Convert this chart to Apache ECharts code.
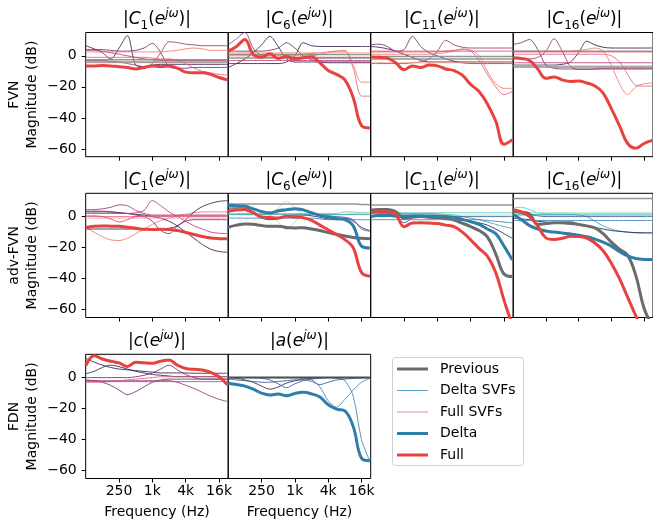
<!DOCTYPE html>
<html><head><meta charset="utf-8">
<script src="https://cdn.jsdelivr.net/npm/echarts@6/dist/echarts.min.js"></script>
<style>html,body{margin:0;padding:0;background:#fff}#c{width:653px;height:524px}</style>
</head><body><div id="c"></div>
<script>
// ---------- axes ----------
const freqHz = [62.5, 88.4, 125, 176.8, 250, 353.6, 500, 707.1, 1000, 1414, 2000, 2828, 4000, 5657, 8000, 11314, 16000, 22627];
const fMin = 62.5, fMax = 23400;
const tickHz = [250, 1000, 4000, 16000];
const tickLabels = ['250', '1k', '4k', '16k'];
const yTicks = [0, -20, -40, -60];
const yMin = -65, yMax = 15;
const rowNames = ['FVN', 'adv-FVN', 'FDN'];
const legendNames = ['Previous', 'Delta SVFs', 'Full SVFs', 'Delta', 'Full'];

// ---------- FVN C1 ----------
const fvnC1Full = [-6.5,-6.5,-6.3,-6.5,-7,-7.5,-8.5,-7.5,-6.5,-7,-6.5,-8,-10.5,-11,-11,-12,-14,-15.5];
const fvnC1Prev = [[-2.5,-2.5,-2.5,-2.5,-2.5,-2.5,-2.5,-2.5,-2.5,-2.5,-2.5,-2.5,-2.5,-2.5,-2.5,-2.5,-2.5,-2.5],
                   [-4,-4,-4,-4,-4,-4,-4,-4,-4,-4,-4,-4,-4,-4,-4,-4,-4,-4]];
const fvnC1Svf = [
 [6.5,4.5,2,-2,5,13,-6,-7,-6,-5.5,-5.5,-5.5,-5.5,-5.5,-5.5,-5.5,-5.5,-5.5],
 [4,4,4,3.5,3,3,3.5,5,8,2,-7,-8,-8,-7.5,-7.5,-7.5,-7.5,-7.5],
 [-3,-3,-3,-3.5,-4,-5,-6,-7,-5,2,9,8.5,7.5,7,6.5,6.5,6.5,6.5],
 [2.5,2.5,2.5,2.5,2.5,2.5,2.5,2.5,2.5,2.5,3,3.5,4.5,5,4.5,3.5,3.5,3.5],
 [-1,-1,-1,-1,-1,-1,-1,-1,-1.5,-2,-2,-3,-5,-8,-10,-11,-12,-12.5],
 [3.5,3.5,3,2,1,0,-1,-2,-2.5,-3,-3,-3,-3,-3,-3,-3,-3,-3],
 [-4.5,-4.5,-4.5,-4.5,-4.5,-4.5,-4.5,-4.5,-4.5,-4.5,-4.5,-4.5,-4.5,-4.5,-4.5,-4.5,-4.5,-4.5]];

// ---------- FVN C6 ----------
const fvnC6Full = [3,6,10.5,0.8,-0.9,1.3,-1.7,-0.4,-1.9,-1.3,-0.6,-4.5,-9.5,-12,-15.5,-27,-45,-46.5];
const fvnC6Prev = [[0.8,0.8,0.8,0.8,0.8,0.8,0.8,0.8,0.8,0.8,0.8,0.8,0.8,0.8,0.8,0.8,0.8,0.8],
                   [-1.5,-1.5,-1.5,-1.5,-1.5,-1.5,-1.5,-1.5,-1.5,-1.5,-1.5,-1.5,-1.5,-1.5,-1.5,-1.5,-1.5,-1.5]];
const fvnC6Svf = [
 [-7.5,-5,-2,2,7,12.5,6,-2,-4,-4,-4,-4,-4,-4,-4,-4,-4,-4],
 [7,11,15,5,0,-1,-1,-1,-1,-1,-1,-1,-1,-1,-1,-1,-1,-1],
 [3,3,3,3,3,3.5,5,8.4,5,0,-2.5,-4,-4.5,-4.5,-4.5,-4.5,-4.5,-4.5],
 [-5,-5,-5,-5,-5,-5,-5,-4,0,8.4,6.5,6,6,6,6,6,6,6],
 [1,1,1,1,1,1,1,1,1,1,1.5,2,2.5,3,3,-8,-26,-26],
 [0,0,0,0,0,0,0,0,0,0,0,1,2,3,3.5,-6,-17,-17],
 [-3,-3,-3,-3,-3,-3,-3,-3,-3,-3,-3,-3,-3,-3,-3,-3,-3,-3],
 [2,2,2,2,2,2,2,2,2,2,2,2,2,2,2,2,2,2]];

// ---------- FVN C11 ----------
const fvnC11Full = [-0.7,-1,-1.5,-4.5,-9,-6.5,-7.5,-6,-6.5,-8.5,-9.5,-12.5,-18.5,-23,-31,-42,-57,-54];
const fvnC11Prev = [[-0.5,-0.5,-0.5,-0.5,-0.5,-0.5,-0.5,-0.5,-0.5,-0.5,-0.5,-0.5,-0.5,-0.5,-0.5,-0.5,-0.5,-0.5],
                    [-2,-2,-2,-2,-2,-2,-2,-2,-2,-2,-2,-2,-2,-2,-2,-2,-2,-2]];
const fvnC11Svf = [
 [7,7.5,6,3,4,12.5,6,2,0,-2,-3.5,-4.5,-5,-5,-5,-5,-5,-5],
 [6,5.5,4.5,3,1,-1,-3,-4,-4,-4,-4,-4,-4,-4,-4,-4,-4,-4],
 [-5,-5,-5,-5,-5,-4.5,-4,-2,3,10,7,5.5,5,5,5,5,5,5],
 [2.5,2.5,2.5,2.5,2.5,2.5,2.5,2.5,2.5,3,3.5,4,3,-3,-12,-20,-25,-23],
 [1,1,1,1,1,1,1,1,1.5,2,3,4.5,3.6,0,-10,-18,-21,-21],
 [3,3,3,3,3,3,3,3,3,3,3,3,3,3,3,3,3,3],
 [-4.5,-4.5,-4.5,-4.5,-4.5,-4.5,-4.5,-4.5,-4.5,-4.5,-4.5,-4.5,-4.5,-4.5,-4.5,-4.5,-4.5,-4.5]];

// ---------- FVN C16 ----------
const fvnC16Full = [-1.3,-1.7,-3,-8.5,-14.5,-13.7,-15.5,-16.5,-16.3,-17.5,-19.5,-24,-34,-45,-56.5,-59.5,-56.5,-54.5];
const fvnC16Prev = [[3,3,3,3,3,3,3,3,3,3,3,3,3,3,3,3,3,3],
                    [-7.3,-7.3,-7.3,-7.3,-7.3,-7.3,-7.3,-7.3,-7.3,-7.3,-7.3,-7.3,-7.3,-7.3,-7.3,-7.3,-7.3,-7.3]];
const fvnC16Svf = [
 [7.3,8.5,10.5,4,-6,-8,-8.5,-8.5,-8.5,-8.5,-8.5,-8.5,-8.5,-8.5,-8.5,-8.5,-8.5,-8.5],
 [-2,-2,-2,-1,3,11,3,-7,-8.8,-8.8,-8.5,-8,-8,-8,-8,-8,-8,-8],
 [-6,-6,-6,-6,-6,-6,-5.5,-4,2,9.4,7,5.5,5,5,5,5,5,5],
 [3,3,3,3,3,3,3,3,3.5,4,5,3,-6,-18,-25,-20,-18,-17.5],
 [1,1,1,1,1,1,1,1,1,1,1,1,0,-4,-12,-19,-19.5,-19.5],
 [2.5,2.5,2.5,2.5,2.5,2.5,2.5,2.5,2.5,2.5,2.5,2.5,2.5,2.5,2.5,2.5,2.5,2.5],
 [-4.5,-4.5,-4.5,-4.5,-4.5,-4.5,-4.5,-4.5,-4.5,-4.5,-4.5,-4.5,-4.5,-4.5,-4.5,-4.5,-4.5,-4.5],
 [-6.5,-6.5,-6.5,-6.5,-6.5,-6.5,-6.5,-6.5,-6.5,-6.5,-6.5,-6.5,-6.5,-6.5,-6.5,-6.5,-6.5,-6.5]];

// ---------- adv-FVN C1 ----------
const advC1Full = [-7,-6.3,-6,-6.2,-6.3,-6.8,-7.5,-8.2,-8.3,-8.2,-8.3,-9,-10.2,-11.5,-12.8,-13.8,-14.2,-14.3];
const advC1Svf = [
 [-7,-10,-13,-15,-15.4,-14,-11,-8,-5,-2.5,-1,0.5,1.5,2.5,3,3,3,3],
 [3,3,3,3,2.5,2,1.5,1,0,-1,-3,-6,-10,-14,-18,-21,-22.5,-23],
 [-8,-8,-8,-8,-8,-8,-8,-8,-8,-8,-7.5,-6,-2,3,6.5,8.5,9.8,10.3],
 [3.5,3.5,3.5,3,2.5,2,1,0,-3,-9,-11,-6,-3,-2,-2,-2,-2,-2],
 [4.5,4.5,5,6,7.5,7,4,2,1,1,1,1,1,1,1,1,1,1],
 [2,2,2,2,2,2,2.5,4,10.3,7,3,0,-3,-6,-8,-10,-10.7,-11],
 [0,0,0,0,0,0,0,0,0,0,0,0,0,0,0,0,0,0],
 [-1,-1,-1,-1,-1,-1,-1,-1,-1,-1,-1,-1,-1,-1,-1,-1,-1,-1],
 [0.5,0.5,0,-1.5,-3.5,-2,0,0.5,0.5,0.5,0.5,0.5,0.5,0.5,0.5,0.5,0.5,0.5]];

// ---------- adv-FVN C6 ----------
const advC6Full = [3.4,4.3,4.5,2.5,-0.2,-0.6,-0.9,0.2,-0.2,-0.8,-2.5,-5.5,-8.5,-11.5,-14.8,-20,-36,-38.4];
const advC6Delta = [7.3,7,6.6,5,3.3,2.4,3.7,4.4,5.1,4.3,2.5,0.8,-0.3,-1.2,-2,-6,-19,-20.2];
const advC6Prev = [-6.9,-5.5,-4.7,-5,-5.8,-6.3,-6.2,-7,-7.3,-7.2,-8,-9,-10.3,-11.4,-12.5,-13.5,-14,-14.2];
const advC6PrevThin = [[8.1,8.1,8.1,8.1,8.1,8.1,8.1,8.1,8.1,8.1,8.1,8.1,8.1,8.1,8.1,8.1,7.8,7.6]];
const advC6Svf = [
 [1.3,1.3,1.3,1.3,1.3,1.5,5.5,9.9,5.5,1.5,1.3,1.3,1.3,1.3,1.5,2,2.2,2.2],
 [1.3,1.3,1.3,1.3,1.3,1,-3.5,-8.4,-3.5,1,1.3,1.3,1.3,1.3,1.3,1.3,1.3,1.3],
 [5,5,4,2,-1,-2,-1.5,0,1,1,0.5,-0.5,-1.5,-2,-1,-3,-7,-9],
 [6,6,5.5,4.5,3,2.5,3,4,4.5,4,2,1,0.5,0,-0.5,-2,-8,-9.4],
 [2,2,2,2,2,2,2,2,2,2,2,2,2,2,3,3,2.5,2.5],
 [-1,-1,-1,-1,-1,-1,-1,-1,-1,-1,-1,-1.5,-2,-2,-2,-2,-2,-2],
 [1.3,1.3,1.3,1.3,1.3,1.3,1.3,1.3,1.3,1.3,1.3,1.3,1.3,1.3,1.3,1.3,1.3,1.3]];

// ---------- adv-FVN C11 ----------
const advC11Full = [2.6,3.1,3,1.5,-6.5,-4.2,-4,-4.2,-4.5,-5.5,-6.5,-10,-15,-20.5,-25.5,-36,-54,-70];
const advC11Delta = [0,0.8,1,0.6,0.4,0.5,0.5,0.4,0.3,0,-0.5,-1.8,-3.3,-5,-8,-11,-19,-28];
const advC11Prev = [4.3,4.6,4.5,3.2,-1,-0.2,0,0,-0.3,-1.2,-2.3,-4.3,-6.5,-9,-13,-24,-37,-38.6];
const advC11PrevThin = [[7.5,7.5,7.5,7.5,7.5,7.5,7.5,7.5,7.5,7.5,7.5,7.5,7.5,7.5,7.5,7.5,7.5,7.5]];
const advC11Svf = [
 [0.5,0.5,0.5,0.5,0.5,0,-0.5,-1,-1.2,-1.5,-2,-2.5,-3,-4,-5.5,-8,-11,-14],
 [2,2,2,2,2,2,2,2,1.8,1.5,1,0,-1,-2,-3.5,-5,-6.5,-7.5],
 [0,0,0,-0.5,-4,-1,0,0,0,0,0,0,0,0,0,0,0,0],
 [2.5,2.5,2.5,2.5,2.5,2.5,2.5,2.5,2.5,2.5,2.5,2.5,2.5,2.5,2.5,2.5,2.5,2.5],
 [-2,-2,-2,-2,-2,-2,-2,-2,-2,-2,-2,-2,-2,-2,-2.5,-3,-3.5,-4],
 [1,1,1,1,1,1,1,1,1,1,1,1,1,1,1,1,1,1]];

// ---------- adv-FVN C16 ----------
const advC16Full = [4.5,3,0,-6,-13.7,-14.8,-14,-12.7,-12.8,-13.8,-17,-22,-30,-40,-52,-64,-75,-80];
const advC16Delta = [1.3,-2,-5.8,-8,-9.3,-10,-10.5,-11.2,-12,-13,-14.5,-16.5,-19,-22.5,-25.3,-27,-27.6,-27.7];
const advC16Prev = [3.4,2.8,1.7,-5,-4.5,-4,-4,-4,-5,-6,-7.3,-11,-16.5,-21,-25,-38,-59,-70];
const advC16PrevThin = [[11.6,11.6,11.6,11.6,11.6,11.6,11.6,11.6,11.6,11.6,11.6,11.6,11.6,11.6,11.6,11.6,11.6,11.6]];
const advC16Svf = [
 [5.6,6,4.5,2.5,1.8,1.7,1.7,1.7,1.7,1.7,1.7,1.7,1.7,1.7,1.7,1.7,1.7,1.7],
 [1.5,1.5,1.5,1.5,1.5,1.5,1.5,1.5,1,0,-3,-6,-8,-9.4,-10,-10.5,-10.5,-10.5],
 [-1,-1.5,-2,-3,-3.5,-4,-4.5,-5,-5.5,-6,-7,-8,-9,-9.5,-10,-10.3,-10.5,-10.5],
 [3,2.5,1.5,0.5,0,0,0,0,0,0,0,0,0,0,0,0,0,0],
 [2.5,2.5,2.5,2.5,2.5,2.5,2.5,2.5,2.5,2.5,2.5,2.5,2.5,2.5,2.5,2.5,2.5,2.5],
 [-2.5,-2.5,-2.5,-2.5,-2.5,-2.5,-2.5,-2.5,-2.5,-2.5,-2.5,-2.5,-2.5,-2.5,-2.5,-2.5,-2.5,-2.5],
 [1,1,1,1,1,1,1,1,1,1,1,1,1,1,1,1,1,1]];

// ---------- FDN c ----------
const fdnCFull = [7.5,14,12,10.5,9.5,7.2,9.8,9.5,9.3,10.5,11.3,8,5.8,5.3,4.9,3.3,0.5,-4.7];
const fdnCSvf = [
 [-1.5,-2,-3,-5,-8,-11,-9,-6,-3,-1.5,-1,-1,-1,-1,-1,-1,-1,-1],
 [-2,-2,-2,-2,-2,-2,-2,-2,-2,-2,-2,-3,-5,-7,-9.5,-12,-14,-15.4],
 [12.4,10,8,6.5,5.5,5,4.5,4,3.5,3,3,3,3,2.8,2.8,2.8,2.8,2.8],
 [2.5,4,6.5,8,7,5.5,4,3,2,1.5,1,0.6,0.6,0.6,0.6,0.6,0.6,0.6],
 [0,0,0,0,0,0,0.5,1.5,3,5.5,8,5,2,0,-1,-1,-1,-1],
 [-3,-3,-2.8,-2.5,-2,-1.5,-1,-0.5,0,0.5,0.5,0.5,0.5,0.5,0.5,0.5,0.5,0.5],
 [-2.6,-2.6,-2.6,-2.6,-2.6,-2.6,-2.6,-2.6,-2.6,-2.6,-2.6,-2.6,-2.6,-2.6,-2.6,-2.6,-2.6,-2.6]];

// ---------- FDN a ----------
const fdnADelta = [-3.6,-4.5,-5.5,-7.5,-10,-11.2,-10.5,-11.7,-10.2,-9.5,-10.5,-12.5,-17.5,-20.3,-21.5,-31.5,-52,-53.6];
const fdnAPrev = [0,0,0,0,0,0,0,0,0,0,0,0,0,0,0,0,0,0];
const fdnASvf = [
 [0,-0.5,-1.5,-3,-5.5,-7.5,-6,-3.5,-2,-1,-0.5,0,0,0,0,0,0,0],
 [0,0,0,0,-0.5,-1.5,-4,-6.5,-4,-2,-1,-0.5,0,0,0,0,0,0],
 [0,0,0,0,0,0,0,0,0,-0.5,-1.5,-6,-15,-19,-14,-8,-3,-0.5],
 [0,0,0,0,0,0,0,0,0,0,0,0,0,-0.5,-2,-12,-40,-54],
 [-1,-1.5,-2,-2.5,-3,-3,-2.5,-2,-1.5,-1.5,-2.5,-4.5,-3,-1.5,-1,-0.5,-0.3,0]];

// ---------- styles ----------
const FONT = 'DejaVu Sans';
const C = {
  full: '#e8413e', delta: '#2f7eaa', prev: '#6b6b6b', prevThin: '#8a8a8a', prevFlat: '#4f4f4f',
  dp: '#3b1c4f', pu: '#6e2f72', mg: '#9b3779', cr: '#c23d74', rd: '#dc4a66', sa: '#ef7a68', ls: '#f6a488', pk: '#e0607f', lp: '#f0a0b4',
  nv: '#2c2450', bl: '#3b5a9a', st: '#3c80b4', tl: '#3fa3b0', lt: '#6cc4b3', mt: '#9adfc2'
};
const colLeft = [85.7, 228.2, 370.7, 513.2];
const rowTop = [32.5, 193.3, 354.3];
const PW = 142.5, PH = 124.2;

const panels = [
  {r:0,c:0,L:'C',s:'1', svf:fvnC1Svf, sc:['dp','pu','mg','sa','pk','cr','ls'], prevThin:fvnC1Prev, full:fvnC1Full},
  {r:0,c:1,L:'C',s:'6', svf:fvnC6Svf, sc:['dp','mg','pu','dp','pk','sa','cr','ls'], prevThin:fvnC6Prev, full:fvnC6Full},
  {r:0,c:2,L:'C',s:'11', svf:fvnC11Svf, sc:['pu','dp','mg','pk','sa','rd','ls'], prevThin:fvnC11Prev, full:fvnC11Full},
  {r:0,c:3,L:'C',s:'16', svf:fvnC16Svf, sc:['pu','mg','dp','sa','pk','rd','cr','ls'], prevThin:fvnC16Prev, full:fvnC16Full},
  {r:1,c:0,L:'C',s:'1', svf:advC1Svf, sc:['sa','dp','nv','pu','mg','cr','pk','lp','rd'], full:advC1Full},
  {r:1,c:1,L:'C',s:'6', svf:advC6Svf, sc:['mt','mt','nv','bl','lt','st','tl'], prevThin:advC6PrevThin, prev:advC6Prev, delta:advC6Delta, full:advC6Full},
  {r:1,c:2,L:'C',s:'11', svf:advC11Svf, sc:['nv','tl','bl','lt','st','mt'], prevThin:advC11PrevThin, prev:advC11Prev, delta:advC11Delta, full:advC11Full},
  {r:1,c:3,L:'C',s:'16', svf:advC16Svf, sc:['lt','tl','nv','bl','mt','st','tl'], prevThin:advC16PrevThin, prev:advC16Prev, delta:advC16Delta, full:advC16Full},
  {r:2,c:0,L:'c',s:'', svf:fdnCSvf, sc:['pu','mg','dp','nv','pu','pk','cr'], full:fdnCFull},
  {r:2,c:1,L:'a',s:'', svf:fdnASvf, sc:['nv','bl','st','st','bl'], prev:fdnAPrev, prevW:2, prevC:'prevFlat', delta:fdnADelta}
];

const xPos = f => Math.log2(f / fMin);
const xTickPos = tickHz.map(xPos);
const pts = arr => freqHz.map((f, i) => [xPos(f), arr[i]]);

const grids = [], xAxes = [], yAxes = [], series = [], graphics = [];

function line(k, arr, color, width, opacity, smooth) {
  series.push({
    type: 'line', xAxisIndex: k, yAxisIndex: k, data: pts(arr),
    symbol: 'none', showSymbol: false, smooth: smooth, silent: true, clip: true,
    lineStyle: { color: color, width: width, opacity: opacity }
  });
}

panels.forEach((p, k) => {
  const left = colLeft[p.c], top = rowTop[p.r];
  grids.push({ left: left, top: top, width: PW, height: PH, show: true, borderColor: '#000', borderWidth: 1, backgroundColor: 'rgba(0,0,0,0)' });
  xAxes.push({
    type: 'value', gridIndex: k, min: 0, max: xPos(fMax), position: 'bottom',
    axisLine: { show: false, onZero: false }, splitLine: { show: false },
    axisTick: { show: true, customValues: xTickPos, length: 4, lineStyle: { color: '#000', width: 1 } },
    axisLabel: { show: p.r === 2, customValues: xTickPos, margin: 6, fontSize: 14, fontFamily: FONT, color: '#000',
      formatter: v => { const i = xTickPos.findIndex(t => Math.abs(t - v) < 1e-6); return i >= 0 ? tickLabels[i] : ''; } }
  });
  yAxes.push({
    type: 'value', gridIndex: k, min: yMin, max: yMax, position: 'left',
    axisLine: { show: false, onZero: false }, splitLine: { show: false },
    axisTick: { show: p.c === 0, customValues: yTicks, length: 4, lineStyle: { color: '#000', width: 1 } },
    axisLabel: { show: p.c === 0, customValues: yTicks, margin: 9, fontSize: 14, fontFamily: FONT, color: '#000',
      formatter: v => v < 0 ? '\u2212' + Math.abs(v) : String(v) }
  });
  p.svf.forEach((arr, i) => line(k, arr, C[p.sc[i]], 1, 0.85, 0.3));
  if (p.prevThin) p.prevThin.forEach(arr => line(k, arr, C.prevThin, 1.5, 0.9, 0.3));
  if (p.prev) line(k, p.prev, C[p.prevC || 'prev'], p.prevW || 3, 1, 0.4);
  if (p.delta) line(k, p.delta, C.delta, 3, 1, 0.4);
  if (p.full) line(k, p.full, C.full, 3, 1, 0.4);

  // panel title
  const txt = '{n||}{i|' + p.L + '}' + (p.s ? '{sub|' + p.s + '}' : '') + '{n|(}{i|e}{sup|j\u03c9}{n|)|}';
  graphics.push({
    type: 'text', x: left + PW / 2, y: top - 12.5, silent: true,
    style: {
      text: txt, align: 'center', verticalAlign: 'middle', fill: '#000', fontFamily: FONT, fontSize: 17,
      rich: {
        n: { fontSize: 17, fontFamily: FONT, lineHeight: 24, fill: '#000' },
        i: { fontSize: 17, fontFamily: FONT, fontStyle: 'italic', lineHeight: 24, fill: '#000' },
        sub: { fontSize: 12, fontFamily: FONT, lineHeight: 14, verticalAlign: 'bottom', fill: '#000' },
        sup: { fontSize: 12, fontFamily: FONT, fontStyle: 'italic', lineHeight: 16, verticalAlign: 'top', fill: '#000' }
      }
    }
  });
});

// row names
rowNames.forEach((nm, r) => {
  graphics.push({
    type: 'text', x: 23, y: rowTop[r] + PH / 2, rotation: Math.PI / 2, silent: true,
    style: { text: nm + '\nMagnitude (dB)', align: 'center', verticalAlign: 'middle', lineHeight: 18, fontSize: 14, fontFamily: FONT, fill: '#000' }
  });
});
// x axis names
[0, 1].forEach(c => {
  graphics.push({
    type: 'text', x: colLeft[c] + PW / 2, y: 512.5, silent: true,
    style: { text: 'Frequency (Hz)', align: 'center', verticalAlign: 'middle', fontSize: 14, fontFamily: FONT, fill: '#000' }
  });
});
// legend
graphics.push({ type: 'rect', silent: true, shape: { x: 392.5, y: 357.5, width: 131, height: 108, r: 3 }, style: { fill: '#fff', stroke: '#d0d0d0', lineWidth: 1 } });
const legStyle = [
  { color: C.prev, width: 3 }, { color: '#5aa4d0', width: 1 }, { color: '#ee87a2', width: 1 },
  { color: C.delta, width: 3 }, { color: C.full, width: 3 }
];
legendNames.forEach((nm, i) => {
  const y = 369 + i * 21.5;
  graphics.push({ type: 'line', silent: true, shape: { x1: 397, y1: y, x2: 428, y2: y }, style: { stroke: legStyle[i].color, lineWidth: legStyle[i].width } });
  graphics.push({ type: 'text', silent: true, x: 440, y: y, style: { text: nm, align: 'left', verticalAlign: 'middle', fontSize: 14, fontFamily: FONT, fill: '#000' } });
});

const chart = echarts.init(document.getElementById('c'), null, { renderer: 'canvas' });
chart.setOption({
  animation: false,
  backgroundColor: '#fff',
  grid: grids, xAxis: xAxes, yAxis: yAxes, series: series, graphic: graphics
});
</script></body></html>
